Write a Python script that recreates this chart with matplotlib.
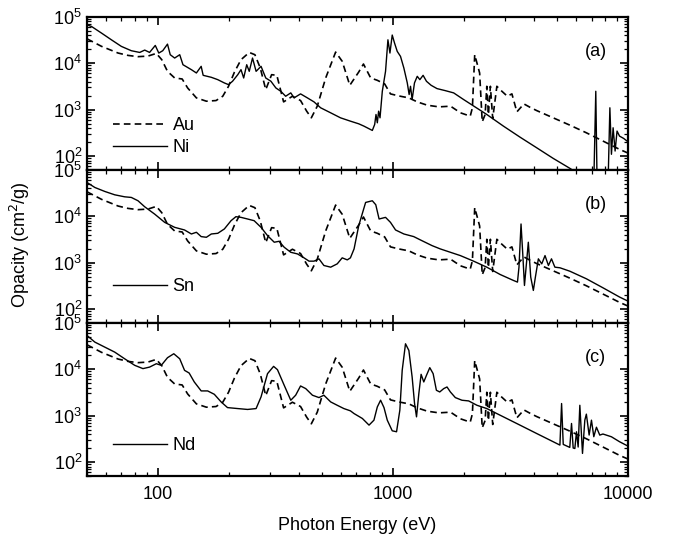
import matplotlib
matplotlib.use('Agg')
import matplotlib.pyplot as plt
import numpy as np
from matplotlib.ticker import LogLocator, NullFormatter, FuncFormatter

plt.rcParams['font.family'] = ['Liberation Sans', 'DejaVu Sans']

# Au (dashed, same curve in every panel)
au_e = [50, 57.7, 67.8, 74.7, 82.4, 90.8, 98.6, 104, 110, 118, 127, 134, 146, 161, 177, 189, 200, 212,
        226, 245, 259, 273, 288, 305, 321, 343, 374, 405, 430, 450, 477, 518, 571, 609, 656, 716, 750,
        805, 859, 923, 977, 1060, 1170, 1270, 1400, 1570, 1760, 1940, 2134, 2180, 2230, 2290, 2340, 2400,
        2470, 2510, 2550, 2600, 2660, 2770, 2910, 3070, 3210, 3370, 3610, 3830, 4087, 4809, 5658, 6656,
        7830, 9212, 10000]
au_op = [33200, 22800, 16400, 14600, 13700, 14100, 16100, 11800, 6630, 4770, 4540, 2910, 1780, 1510,
         1560, 1930, 3160, 6410, 11800, 16900, 15100, 7810, 2680, 5620, 5440, 1460, 1930, 1560, 921, 663,
         1180, 4770, 17200, 10900, 3320, 6410, 9520, 4770, 4250, 3550, 2170, 1960, 1780, 1460, 1240, 1140,
         1180, 849, 720, 1090, 15100, 9200, 6110, 544, 782, 3160, 782, 3160, 641, 3160, 2470, 1930, 2170,
         891, 1320, 1120, 952, 663, 462, 316, 210, 139, 116]

# Ni (panel a)
ni_e = [50, 52.3, 57.7, 63.5, 70.0, 77.2, 83.8, 88.0, 92.3, 97.6, 101, 105, 110, 113, 118, 124, 128, 139,
        146, 153, 156, 169, 180, 192, 200, 208, 219, 226, 232, 239, 245, 253, 262, 275, 288, 303, 318, 334,
        350, 368, 380, 405, 433, 462, 493, 544, 599, 660, 716, 753, 818, 837, 848, 859, 870, 882, 902, 931,
        953, 972, 994, 1017, 1044, 1078, 1114, 1152, 1173, 1189, 1208, 1236, 1270, 1303, 1345, 1390, 1455,
        1541, 1671, 1814, 2000, 2510, 2953, 3474, 4087, 4809, 5658, 6656, 7160, 7300, 7390, 8240, 8380,
        8510, 8650, 8820, 8990, 9212, 9590, 10000]
ni_op = [66300, 61000, 43900, 31600, 22800, 18400, 16900, 19000, 16900, 23900, 16400, 18400, 25500, 15100,
         12800, 15100, 9200, 7200, 6110, 8490, 5440, 4930, 4390, 3730, 3430, 4050, 5620, 7200, 4770, 9200,
         6630, 12800, 6630, 8490, 4770, 4050, 2910, 2460, 1930, 2280, 1780, 2170, 1780, 1460, 1090, 849, 663,
         562, 493, 440, 355, 477, 782, 518, 921, 663, 2470, 6630, 31600, 16400, 40000, 26800, 17800, 13900,
         7810, 3730, 2100, 3160, 1640, 3730, 5180, 4390, 5440, 4050, 3320, 2820, 2550, 2280, 1640, 782, 440,
         255, 151, 89, 54.5, 31.6, 27, 2470, 30, 31, 1090, 109, 405, 128, 344, 268, 239, 203]

# Sn (panel b)
sn_e = [50, 54.0, 59.5, 65.6, 72.3, 77.2, 82.4, 88.0, 97.0, 107, 118, 130, 139, 146, 153, 161, 169, 180,
        192, 205, 215, 226, 241, 257, 275, 293, 313, 328, 345, 368, 393, 419, 440, 462, 485, 509, 544, 580,
        609, 640, 660, 684, 716, 766, 818, 846, 874, 931, 977, 1027, 1114, 1227, 1310, 1468, 1592, 1757,
        1937, 2205, 2510, 2860, 3260, 3390, 3440, 3510, 3570, 3630, 3700, 3770, 3860, 3960, 4040, 4160,
        4300, 4440, 4590, 4730, 4890, 5140, 5658, 6656, 7830, 9212, 10000]
sn_op = [52700, 41100, 33800, 28600, 25900, 25100, 21300, 15800, 11000, 7310, 5710, 5010, 4110, 4470, 3610,
         3490, 4110, 4250, 5270, 7940, 9680, 9360, 8630, 7940, 5710, 3790, 2730, 2860, 2130, 1660, 1530,
         1260, 1070, 1070, 1200, 863, 794, 936, 1260, 1140, 1260, 1960, 6210, 19600, 21300, 17500, 8630,
         9360, 7310, 5010, 4110, 3610, 3060, 2310, 1960, 1660, 1410, 1070, 794, 553, 411, 379, 794, 6740,
         1530, 321, 936, 2730, 485, 251, 485, 1200, 936, 1410, 863, 1200, 794, 770, 651, 447, 286, 181, 148]

# Nd (panel c)
nd_e = [50, 54.0, 59.5, 65.6, 72.3, 79.8, 86.5, 92.3, 98.6, 103.5, 110, 117, 124, 130, 136, 143, 153, 163,
        174, 186, 198, 219, 241, 262, 275, 293, 311, 323, 345, 368, 386, 405, 426, 455, 485, 509, 544, 580,
        619, 660, 684, 742, 792, 831, 859, 887, 917, 947, 994, 1037, 1071, 1096, 1132, 1170, 1208, 1237,
        1261, 1290, 1319, 1354, 1390, 1436, 1484, 1532, 1583, 1646, 1700, 1757, 1844, 1968, 2101, 2279,
        2510, 2953, 3474, 4087, 4809, 5137, 5222, 5307, 5658, 5756, 5850, 5946, 6043, 6142, 6244, 6409,
        6557, 6656, 6839, 6997, 7159, 7347, 7590, 7830, 8507, 9212, 10000]
nd_op = [52700, 37900, 29600, 23100, 16600, 12000, 10200, 11000, 13000, 12000, 17500, 21300, 16600, 9360,
         8200, 5270, 3380, 3380, 2860, 1960, 1480, 1410, 1350, 1410, 2510, 7940, 11400, 9680, 4470, 2130,
         2730, 4320, 3790, 2730, 2430, 2730, 1960, 1660, 1410, 1260, 1100, 863, 621, 794, 1530, 2130, 1480,
         794, 469, 447, 1300, 9360, 34900, 25100, 6740, 1810, 936, 2960, 7690, 5270, 7310, 10700, 7940, 3490,
         3210, 3790, 4110, 3210, 2430, 2130, 2060, 1660, 1410, 936, 621, 411, 273, 231, 1810, 239, 206, 674,
         200, 195, 447, 210, 1660, 153, 794, 1070, 380, 794, 350, 560, 379, 400, 349, 273, 220]

panels = [('Ni', ni_e, ni_op, '(a)'), ('Sn', sn_e, sn_op, '(b)'), ('Nd', nd_e, nd_op, '(c)')]
legend_y = [0.2175, 0.235, 0.196]

fig = plt.figure(figsize=(6.77, 5.37), dpi=100)
left, width = 0.1285, 0.799
bottoms = [0.6834, 0.3985, 0.1136]
height = 0.2858

axes = []
for i, (name, e, op, tag) in enumerate(panels):
    ax = fig.add_axes([left, bottoms[i], width, height], sharex=axes[0] if axes else None)
    axes.append(ax)
    au_label = 'Au' if i == 0 else '_nolegend_'
    ax.plot(au_e, au_op, color='black', lw=1.2, ls=(0, (4, 2.5)), label=au_label)
    ax.plot(e, op, color='black', lw=1.0, label=name)
    ax.set_xscale('log')
    ax.set_yscale('log')
    ax.set_xlim(50, 10000)
    ax.set_ylim(50, 1e5)
    ax.yaxis.set_major_locator(LogLocator(base=10, numticks=10))
    ax.yaxis.set_minor_locator(LogLocator(base=10, subs=np.arange(2, 10), numticks=10))
    ax.yaxis.set_minor_formatter(NullFormatter())
    ax.xaxis.set_major_formatter(FuncFormatter(lambda v, p: '%d' % v))
    ax.xaxis.set_minor_formatter(NullFormatter())
    ax.tick_params(which='both', direction='in', top=True, right=True, labelsize=13)
    ax.tick_params(which='major', length=6, width=1.2)
    ax.tick_params(which='minor', length=3, width=0.9)
    ax.tick_params(axis='x', pad=7)
    for s in ax.spines.values():
        s.set_linewidth(1.6)
    ax.text(0.94, 0.77, tag, transform=ax.transAxes, fontsize=13, ha='center', va='center')
    ax.legend(loc='center left', bbox_to_anchor=(0.048, legend_y[i]), frameon=False, fontsize=13,
              handlelength=3.0, handletextpad=0.3, labelspacing=0.25, borderpad=0, borderaxespad=0)
    if i < 2:
        ax.tick_params(labelbottom=False)

axes[-1].set_xlabel('Photon Energy (eV)', fontsize=13, labelpad=10)
fig.text(0.03, 0.545, 'Opacity (cm$^2$/g)', rotation=90, ha='center', va='center', fontsize=13)

fig.savefig('out.png', dpi=100)
